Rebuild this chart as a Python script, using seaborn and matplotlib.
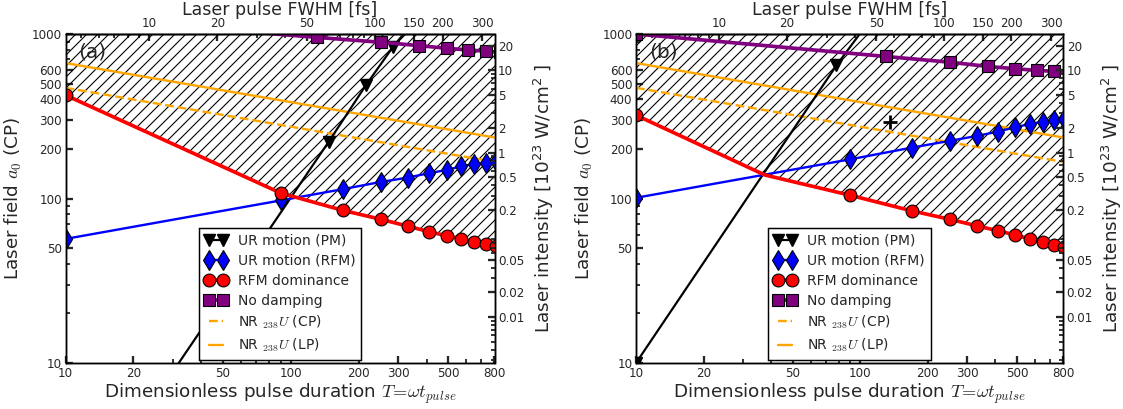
import numpy as np
import matplotlib
matplotlib.use("Agg")
import matplotlib.pyplot as plt
import seaborn as sns

# ============================================================================
# Data
# ============================================================================

# pulse durations where the markers sit
T_marks = [10, 90, 170, 250, 330, 410, 490, 570, 650, 730, 810]
T_damp = [10, 130, 250, 370, 490, 610, 730, 850]
T_nr = [10, 800]

# panel (a)
rfm_dom_a = [425, 108, 84.7, 74.8, 67.9, 62.8, 59.4, 56.8, 54.2, 53.0, 51.5]
ur_rfm_a = [56.8, 97.3, 114, 126, 134, 142.6, 149, 157, 162, 165.5, 169]
no_damp_a = [1270, 954, 891, 850, 819, 800, 786, 773]
pm_T_a = [31.8, 147, 215, 283, 316]
ur_pm_a = [10, 221, 488, 831, 1000]

# panel (b)
T_rfm_b = [10, 37.5, 90, 170, 250, 330, 410, 490, 570, 650, 730, 810]
rfm_dom_b = [321, 139, 104.7, 84, 74.8, 68.2, 63.7, 60, 56.8, 54.2, 52.2, 50.6]
ur_rfm_b = [101, 173, 204, 224, 240, 255, 271, 284, 293, 300, 304]
no_damp_b = [1000, 730, 674, 635, 615, 601, 593, 585]
pm_T_b = [10, 78.2, 99.3]
ur_pm_b = [10, 644, 1000]
cross_b = (136, 293)

# nuclear reaction thresholds for 238U (same in both panels)
nr_cp = [471, 167]
nr_lp = [666, 235]

# axis ticks
x_ticks = [10, 20, 50, 100, 200, 300, 500, 800]
y_ticks = [10, 50, 100, 200, 300, 400, 500, 600, 1000]
fwhm_ticks = [10, 20, 50, 100, 150, 200, 300]
int_ticks = [0.01, 0.02, 0.05, 0.2, 0.5, 1, 2, 5, 10, 20]
int_labels = ["0.01", "0.02", "0.05", "0.2", "0.5", "1", "2", "5", "10", "20"]

OMEGA = 2.355      # rad/fs at 0.8 um
A0_UNIT = 190.0    # a0 giving 1e23 W/cm^2

# ============================================================================
# Style
# ============================================================================

sns.set_theme(style="ticks")
plt.rcParams["font.family"] = ["DejaVu Sans"]
plt.rcParams["mathtext.fontset"] = "cm"
plt.rcParams["hatch.linewidth"] = 0.6
plt.rcParams["axes.edgecolor"] = "black"
plt.rcParams["axes.linewidth"] = 0.8

DPI = 132
fig = plt.figure(figsize=(1123 / DPI, 409 / DPI), dpi=DPI)

positions = [
    [65.5 / 1123, 46 / 409, 429 / 1123, 329 / 409],
    [636 / 1123, 46 / 409, 427 / 1123, 329 / 409],
]


def draw_panel(pos, tag, T_red, red, blue, purple, pm_T, pm, pm_marks, red_marks):
    ax = fig.add_axes(pos)
    ax.set_xscale("log")
    ax.set_yscale("log")

    # hatched region above RFM dominance line
    ax.fill_between(T_red, red, 1000, facecolor="none", edgecolor="black",
                    hatch="////", linewidth=0, zorder=1)

    sns.lineplot(x=pm_T, y=pm, ax=ax, sort=False, estimator=None,
                 color="black", lw=1.2, marker="v", ms=7, markevery=pm_marks,
                 markeredgecolor="black", markeredgewidth=0.8,
                 label="UR motion (PM)", zorder=4)
    sns.lineplot(x=T_marks, y=blue, ax=ax, sort=False, estimator=None,
                 color="blue", lw=1.3, marker="d", ms=8,
                 markeredgecolor="black", markeredgewidth=0.6,
                 label="UR motion (RFM)", zorder=5)
    sns.lineplot(x=T_red, y=red, ax=ax, sort=False, estimator=None,
                 color="red", lw=2.0, marker="o", ms=7, markevery=red_marks,
                 markeredgecolor="black", markeredgewidth=0.6,
                 label="RFM dominance", zorder=5)
    sns.lineplot(x=T_damp, y=purple, ax=ax, sort=False, estimator=None,
                 color="purple", lw=2.0, marker="s", ms=7,
                 markeredgecolor="black", markeredgewidth=0.6,
                 label="No damping", zorder=5)
    sns.lineplot(x=T_nr, y=nr_cp, ax=ax, sort=False, estimator=None,
                 color="orange", lw=1.3, linestyle="--", dashes=(3.4, 2.6),
                 label=r"NR $_{238}U$ (CP)", zorder=3)
    sns.lineplot(x=T_nr, y=nr_lp, ax=ax, sort=False, estimator=None,
                 color="orange", lw=1.3,
                 label=r"NR $_{238}U$ (LP)", zorder=3)

    ax.set_xlim(10, 800)
    ax.set_ylim(10, 1000)
    ax.set_xticks(x_ticks)
    ax.set_xticklabels([str(v) for v in x_ticks])
    ax.set_yticks(y_ticks)
    ax.set_yticklabels([str(v) for v in y_ticks])
    ax.tick_params(which="both", direction="in", labelsize=6.5, pad=2)
    ax.tick_params(which="major", length=4)
    ax.tick_params(which="minor", length=2)

    ax.set_xlabel(r"Dimensionless pulse duration $T\!=\!\omega t_{pulse}$",
                  fontsize=10, labelpad=1)
    ax.set_ylabel(r"Laser field $a_0$ (CP)", fontsize=10, labelpad=4)
    ax.text(0.03, 0.945, tag, transform=ax.transAxes, fontsize=11,
            ha="left", va="center", zorder=6)

    leg = ax.legend(loc="lower center", fontsize=7.6, numpoints=2,
                    handlelength=1.6, fancybox=False, framealpha=1,
                    edgecolor="black", borderaxespad=0.25, labelspacing=0.42)
    leg.get_frame().set_linewidth(0.8)
    leg.set_zorder(10)

    # top axis: laser pulse FWHM in fs
    top = ax.secondary_xaxis("top", functions=(lambda t: t / OMEGA,
                                               lambda f: f * OMEGA))
    top.set_xticks(fwhm_ticks)
    top.set_xticklabels([str(v) for v in fwhm_ticks])
    top.tick_params(which="both", direction="in", labelsize=6.5, pad=2)
    top.tick_params(which="major", length=4)
    top.tick_params(which="minor", length=2)
    top.set_xlabel("Laser pulse FWHM [fs]", fontsize=9.5, labelpad=1.5)

    # right axis: intensity
    ax2 = ax.twinx()
    ax2.set_yscale("log")
    ax2.set_ylim((10 / A0_UNIT) ** 2, (1000 / A0_UNIT) ** 2)
    ax2.set_yticks(int_ticks)
    ax2.set_yticklabels(int_labels)
    ax2.tick_params(which="both", direction="in", labelsize=6.5, pad=2)
    ax2.tick_params(which="major", length=4)
    ax2.tick_params(which="minor", length=2)
    ax2.set_ylabel(r"Laser intensity [$\mathregular{10^{23}}$ W/cm$\mathregular{^2}$ ]",
                   fontsize=10, labelpad=4)
    return ax


ax_a = draw_panel(positions[0], "(a)", T_marks, rfm_dom_a, ur_rfm_a,
                  no_damp_a, pm_T_a, ur_pm_a, [1, 2, 3],
                  list(range(len(T_marks))))

ax_b = draw_panel(positions[1], "(b)", T_rfm_b, rfm_dom_b, ur_rfm_b,
                  no_damp_b, pm_T_b, ur_pm_b, [0, 1],
                  [0] + list(range(2, len(T_rfm_b))))

ax_b.plot([cross_b[0]], [cross_b[1]], marker="+", color="black", ms=8,
          mew=1.5, zorder=6)

fig.savefig("out.png", dpi=DPI)
